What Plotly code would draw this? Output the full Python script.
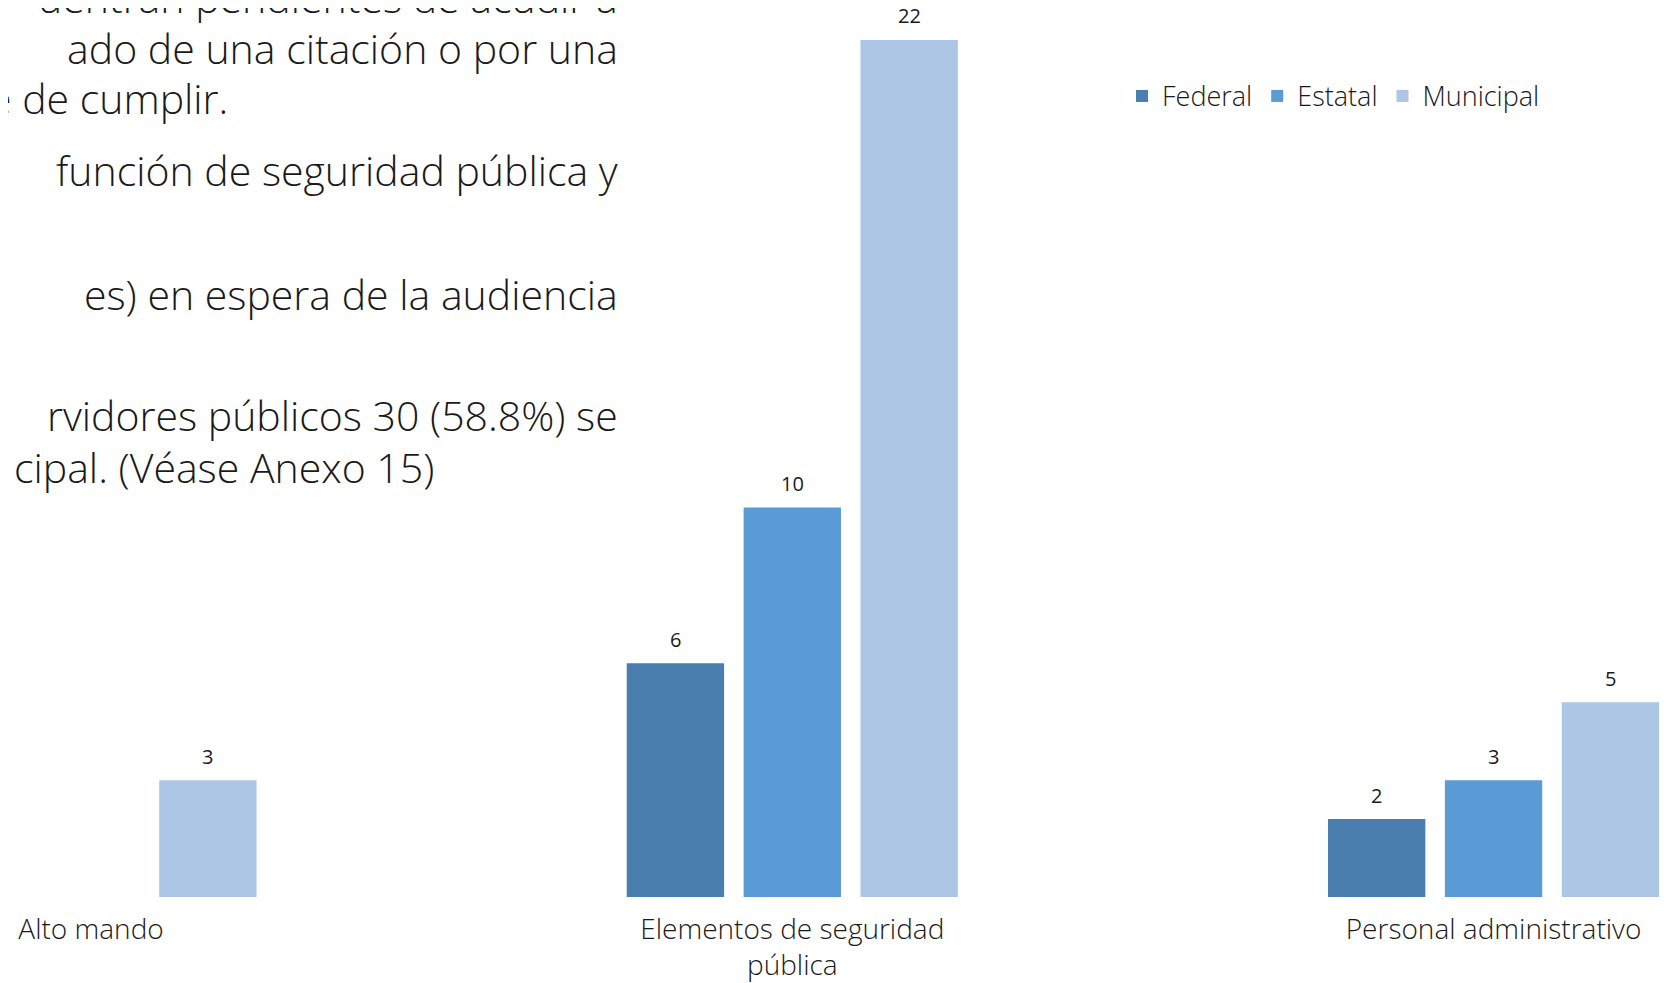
import plotly.graph_objects as go

categorias = ["Alto mando", "Elementos de seguridad<br>pública", "Personal administrativo"]
federal = [None, 6, 2]
estatal = [None, 10, 3]
municipal = [3, 22, 5]

series = [("Federal", federal, "#4a7eaf"),
          ("Estatal", estatal, "#5b9bd5"),
          ("Municipal", municipal, "#adc6e5")]

# texto del documento que queda detras de la grafica (recortado a la izquierda)
parrafo = [
    ("uentran pendientes de acudir a", 612, -11),
    ("ado de una citación o por una", 612, 40),
    ("e de cumplir.", 222, 91),
    ("función de seguridad pública y", 612, 163),
    ("es) en espera de la audiencia", 612, 288),
    ("rvidores públicos 30 (58.8%) se", 612, 410),
    ("cipal. (Véase Anexo 15)", 428, 462),
]

# la pagina tiene 8px de margen en el body, por eso 1665x975
W, H = 1665, 975
margin_b = 80
plot_h = H - margin_b
x_range = [-0.1184, 2.2559]
y_range = [0, 22.82]
bargap = 0.5
bargroupgap = 0.167
fuente = "Open Sans"

fig = go.Figure()
for nombre, vals, color in series:
    fig.add_trace(go.Bar(x=categorias, y=vals, name=nombre, marker_color=color,
                         marker_line_width=0))

# etiquetas de valor sobre cada barra
px_unit = W / (x_range[1] - x_range[0])
slot = (1 - bargap) / len(series) * px_unit
for i, (nombre, vals, color) in enumerate(series):
    for cat, v in zip(categorias, vals):
        if v is None:
            continue
        fig.add_annotation(x=cat, y=v, text=str(v), showarrow=False,
                           xshift=(i - 1) * slot, yshift=24,
                           font=dict(family=fuente, size=20, color="#1a1a1a", weight=400))

for linea, xr, yc in parrafo:
    fig.add_annotation(xref="paper", yref="paper", x=xr / W, y=(plot_h - yc) / plot_h,
                       xanchor="right", yanchor="middle", text=linea, showarrow=False,
                       font=dict(family=fuente, size=41, color="#1a1a1a", weight=300))

fig.update_layout(
    width=W, height=H,
    margin=dict(l=0, r=0, t=0, b=margin_b),
    plot_bgcolor="white", paper_bgcolor="white",
    barmode="group", bargap=bargap, bargroupgap=bargroupgap,
    font=dict(family=fuente, color="#1a1a1a", weight=300),
    legend=dict(orientation="h", x=1114 / W, y=(plot_h - 89) / plot_h,
                xanchor="left", yanchor="middle", font=dict(size=27)),
)
fig.update_xaxes(range=x_range, showgrid=False, showline=False, zeroline=False,
                 tickfont=dict(size=28), ticklabelstandoff=13)
fig.update_yaxes(range=y_range, visible=False, showgrid=False)

fig.write_html("out.html")
